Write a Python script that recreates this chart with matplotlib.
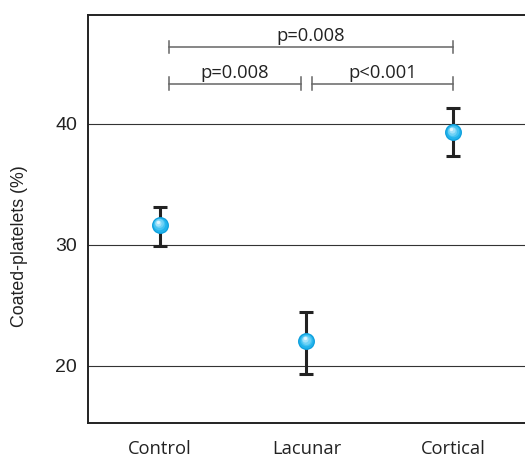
import matplotlib.pyplot as plt
from matplotlib.transforms import offset_copy

groups = ["Control", "Lacunar", "Cortical"]
means = [31.65, 22.05, 39.3]
err_low = [29.9, 19.35, 37.35]
err_high = [33.1, 24.45, 41.25]

# significance brackets: (left group, right group, label, y level)
brackets = [(0, 2, "p=0.008", 46.35), (0, 1, "p=0.008", 43.3), (1, 2, "p<0.001", 43.3)]

fig = plt.figure(figsize=(5.25, 4.57), dpi=100)
ax = fig.add_axes([0.1676, 0.0737, 0.8324, 0.8933])

x = list(range(len(groups)))
yerr = [[m - lo for m, lo in zip(means, err_low)], [hi - m for m, hi in zip(means, err_high)]]
ax.errorbar(x, means, yerr=yerr, fmt="none", ecolor="#222222", elinewidth=2.2,
            capsize=4.8, capthick=2.2, zorder=3)

# sphere-like markers
ax.plot(x, means, "o", ms=12.2, color="#0e9fdc", mec="none", zorder=4)
shades = [(10.4, "#22b3ec"), (8.4, "#45c3f2"), (6.4, "#70d2f6"), (4.4, "#a3e2fa"), (2.4, "#def5fe")]
for i, (s, c) in enumerate(shades):
    off = offset_copy(ax.transData, fig=fig, x=-0.35 * i, y=0.45 * i, units="points")
    ax.plot(x, means, "o", ms=s, color=c, mec="none", zorder=5 + i, transform=off)

for a, b, label, y in brackets:
    xa = a + 0.06 if a == 0 else a + 0.04
    xb = b + 0.0 if b == 2 else b - 0.04
    ax.plot([xa, xb], [y, y], color="#666666", lw=1.1, zorder=2)
    for xe in (xa, xb):
        ax.plot([xe, xe], [y - 0.5, y + 0.5], color="#666666", lw=1.1, zorder=2)
    ax.text((xa + xb) / 2, y + 0.12, label, ha="center", va="bottom",
            fontsize=13.2, family="Open Sans", color="#222222")

ax.set_xlim(-0.49, 2.49)
ax.set_ylim(15.25, 48.95)
ax.set_yticks([20, 30, 40])
ax.yaxis.grid(True, color="#333333", lw=0.8)
ax.set_axisbelow(True)
ax.tick_params(axis="y", length=0, labelsize=14, pad=8, labelcolor="#222222")
ax.tick_params(axis="x", length=0, labelsize=13.2, pad=12, labelcolor="#222222")
for lab in ax.get_yticklabels():
    lab.set_family("Liberation Sans")
ax.set_xticks(x)
ax.set_xticklabels(groups, family="Open Sans")
ax.set_ylabel("Coated-platelets (%)", fontsize=12.8, family="Liberation Sans", color="#222222")
ax.yaxis.set_label_coords(-0.138, 0.434)

ax.spines["right"].set_visible(False)
for side in ["left", "bottom", "top"]:
    ax.spines[side].set_linewidth(1.4)
    ax.spines[side].set_color("#222222")

fig.savefig("out.png", dpi=100)
